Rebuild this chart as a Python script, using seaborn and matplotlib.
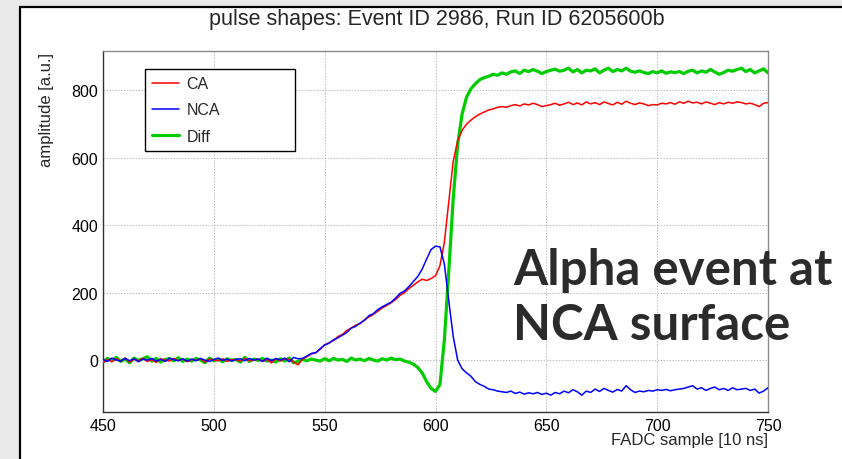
import numpy as np
import pandas as pd
import matplotlib
matplotlib.use("Agg")
import matplotlib.pyplot as plt
import seaborn as sns
from matplotlib.patches import Rectangle
from matplotlib.ticker import MultipleLocator

# ---------------- data (every 2nd FADC sample) ----------------
samples = np.arange(450, 751, 2)

ca = [
    -8, 2, -5, 4, -3, 6, -6, 3, -2, 5,
    -4, 1, -7, 4, 0, -3, 5, -2, 3, -5,
    2, -1, 4, -6, 3, 0, -2, 4, -4, 2,
    1, -3, 5, -2, 0, 3, -4, 2, -8, 4,
    -3, 4, 2, -6, -14, 3, 10, 18, 22, 32,
    45, 52, 58, 70, 76, 88, 95, 104, 108, 120,
    128, 136, 145, 155, 162, 170, 180, 192, 200, 212,
    222, 232, 240, 236, 242, 250, 280, 350, 470, 590,
    650, 682, 700, 712, 722, 730, 736, 742, 745, 750,
    752, 750, 755, 758, 754, 760, 757, 762, 758, 752,
    755, 758, 762, 756, 760, 765, 758, 763, 757, 766,
    760, 764, 758, 766, 761, 757, 765, 759, 768, 762,
    758, 763, 760, 755, 758, 757, 762, 760, 764, 759,
    766, 762, 768, 763, 765, 760, 766, 762, 758, 764,
    760, 765, 762, 766, 764, 760, 762, 758, 752, 762,
    764,
]

nca = [
    2, -4, 6, 0, -3, 5, -2, 4, -5, 3,
    0, 5, -3, 2, -4, 6, 1, -2, 4, -3,
    3, -2, 5, 0, -4, 2, 6, -1, 3, -3,
    2, 4, -2, 5, 0, 3, -4, 6, -2, 5,
    0, 6, -5, 8, 4, 5, 12, 20, 22, 34,
    45, 50, 60, 66, 74, 82, 95, 100, 110, 118,
    132, 138, 150, 158, 165, 172, 184, 198, 205, 218,
    233, 248, 270, 300, 328, 338, 336, 285, 175, 70,
    0, -26, -38, -48, -64, -72, -78, -86, -88, -92,
    -94, -96, -92, -99, -95, -101, -97, -100, -96, -102,
    -98, -104, -96, -100, -92, -97, -88, -94, -104, -92,
    -96, -86, -93, -84, -90, -95, -87, -92, -76, -88,
    -96, -92, -94, -90, -92, -88, -90, -87, -91, -88,
    -86, -84, -80, -76, -86, -82, -90, -84, -80, -88,
    -84, -90, -82, -88, -86, -84, -90, -86, -98, -92,
    -82,
]

diff = [
    -6, 5, -2, 8, -4, 3, -8, 6, -1, 4,
    10, -3, 5, -6, 2, 4, -2, 7, -4, 3,
    -3, 5, 0, -8, 6, -2, 3, -5, 4, -1,
    2, -6, 8, -4, 3, -1, 5, -3, 0, -6,
    4, -3, 6, -8, -4, 2, -2, 3, 0, -3,
    4, -2, 5, 0, 2, -4, 6, 0, 3, -2,
    5, 0, -3, 4, 0, 6, 1, 3, -3, -6,
    -12, -22, -38, -64, -84, -93, -73, 60, 265, 480,
    640, 730, 780, 805, 820, 832, 838, 842, 848, 845,
    852, 848, 855, 858, 850, 860, 856, 862, 857, 850,
    856, 860, 863, 857, 860, 866, 855, 862, 852, 860,
    858, 864, 852, 860, 866, 856, 862, 858, 866, 857,
    854, 858, 853, 850, 856, 852, 858, 851, 855, 853,
    856, 850, 857, 860, 852, 858, 854, 862, 855, 848,
    853, 860, 857, 862, 866, 856, 862, 852, 858, 864,
    852,
]

series_names = ["CA", "NCA", "Diff"]
series_colors = {"CA": "#ff0000", "NCA": "#0000ff", "Diff": "#00cc00"}
x_ticks = [450, 500, 550, 600, 650, 700, 750]
y_ticks = [0, 200, 400, 600, 800]

title = "pulse shapes: Event ID 2986, Run ID 6205600b"
x_label = "FADC sample [10 ns]"
y_label = "amplitude [a.u.]"
note_lines = ["Alpha event at", "NCA surface"]

# ---------------- styling ----------------
sns.set_style("white")
plt.rcParams["font.family"] = ["Liberation Sans", "DejaVu Sans"]

W, H = 842, 460
fig = plt.figure(figsize=(W / 100, H / 100), dpi=100, facecolor="#e9e9e9")

# white canvas with black frame (slide-like), drawn in a background axes
bg = fig.add_axes([0, 0, 1, 1], zorder=0)
bg.set_xlim(0, W)
bg.set_ylim(H, 0)
bg.axis("off")
bg.add_patch(Rectangle((20, 8), W + 20, H + 20, facecolor="white",
                       edgecolor="black", lw=1.6))

left, right, top, bottom = 103, 768, 52, 413
ax = fig.add_axes([left / W, 1 - bottom / H, (right - left) / W, (bottom - top) / H], zorder=2)
ax.set_facecolor("white")

df = pd.DataFrame({"sample": samples, "CA": ca, "NCA": nca, "Diff": diff})

sns.lineplot(data=df, x="sample", y="Diff", color=series_colors["Diff"], lw=2.3,
             ax=ax, label="Diff", estimator=None, sort=False, zorder=3)
sns.lineplot(data=df, x="sample", y="CA", color=series_colors["CA"], lw=1.1,
             ax=ax, label="CA", estimator=None, sort=False, zorder=4)
sns.lineplot(data=df, x="sample", y="NCA", color=series_colors["NCA"], lw=1.1,
             ax=ax, label="NCA", estimator=None, sort=False, zorder=5)

ax.set_xlim(450, 750)
ax.set_ylim(-154, 917)
ax.set_xticks(x_ticks)
ax.set_yticks(y_ticks)
ax.xaxis.set_minor_locator(MultipleLocator(10))
ax.yaxis.set_minor_locator(MultipleLocator(50))
ax.tick_params(axis="both", which="both", direction="in", colors="#333333",
               labelcolor="black", labelsize=11.5, width=0.9)
ax.tick_params(axis="y", which="major", length=14.4, pad=3.5)
ax.tick_params(axis="y", which="minor", length=7.2)
ax.tick_params(axis="x", which="major", length=7.9, pad=4)
ax.tick_params(axis="x", which="minor", length=4.0)

ax.grid(True, which="major", color="#bdbdbd", lw=0.7, linestyle=(0, (1.5, 1.5)))
ax.set_axisbelow(True)
for s in ["left", "bottom"]:
    ax.spines[s].set_color("#333333")
    ax.spines[s].set_linewidth(1.0)
for s in ["top", "right"]:
    ax.spines[s].set_color("#8a8a8a")
    ax.spines[s].set_linewidth(1.0)

ax.set_xlabel("")
ax.set_ylabel("")

# legend in CA, NCA, Diff order
handles, labels = ax.get_legend_handles_labels()
order = [labels.index(n) for n in series_names]
lx0 = (145 - left) / (right - left)
lx1 = (295 - left) / (right - left)
ly1 = (bottom - 70) / (bottom - top)
leg = ax.legend([handles[i] for i in order], [labels[i] for i in order],
                loc="upper left", bbox_to_anchor=(lx0, ly1 - 0.3, lx1 - lx0, 0.3),
                mode="expand", fontsize=11.5, frameon=True, fancybox=False,
                edgecolor="black", framealpha=1.0, borderpad=0.45,
                labelspacing=0.7, handlelength=1.7, handletextpad=0.45,
                borderaxespad=0.0)
leg.get_frame().set_linewidth(1.0)
for line in leg.get_lines():
    line.set_linewidth(1.1 if line.get_color() != series_colors["Diff"] else 2.3)

# texts
fig.text(437 / W, 1 - 19 / H, title, ha="center", va="center", fontsize=15.5, zorder=5)
fig.text(right / W, 1 - 441 / H, x_label, ha="right", va="center", fontsize=12, zorder=5)
fig.text(47 / W, 1 - 53 / H, y_label, ha="center", va="top", rotation=90, fontsize=12, zorder=5)

note_font = ["Lato", "DejaVu Sans"]
fig.text(513 / W, 1 - 285 / H, note_lines[0], ha="left", va="baseline",
         fontsize=35.5, fontweight="bold", color="#2b2b2b", family=note_font, zorder=10)
fig.text(513 / W, 1 - 340 / H, note_lines[1], ha="left", va="baseline",
         fontsize=35.5, fontweight="bold", color="#2b2b2b", family=note_font, zorder=10)

fig.savefig("out.png", dpi=100, facecolor=fig.get_facecolor())
